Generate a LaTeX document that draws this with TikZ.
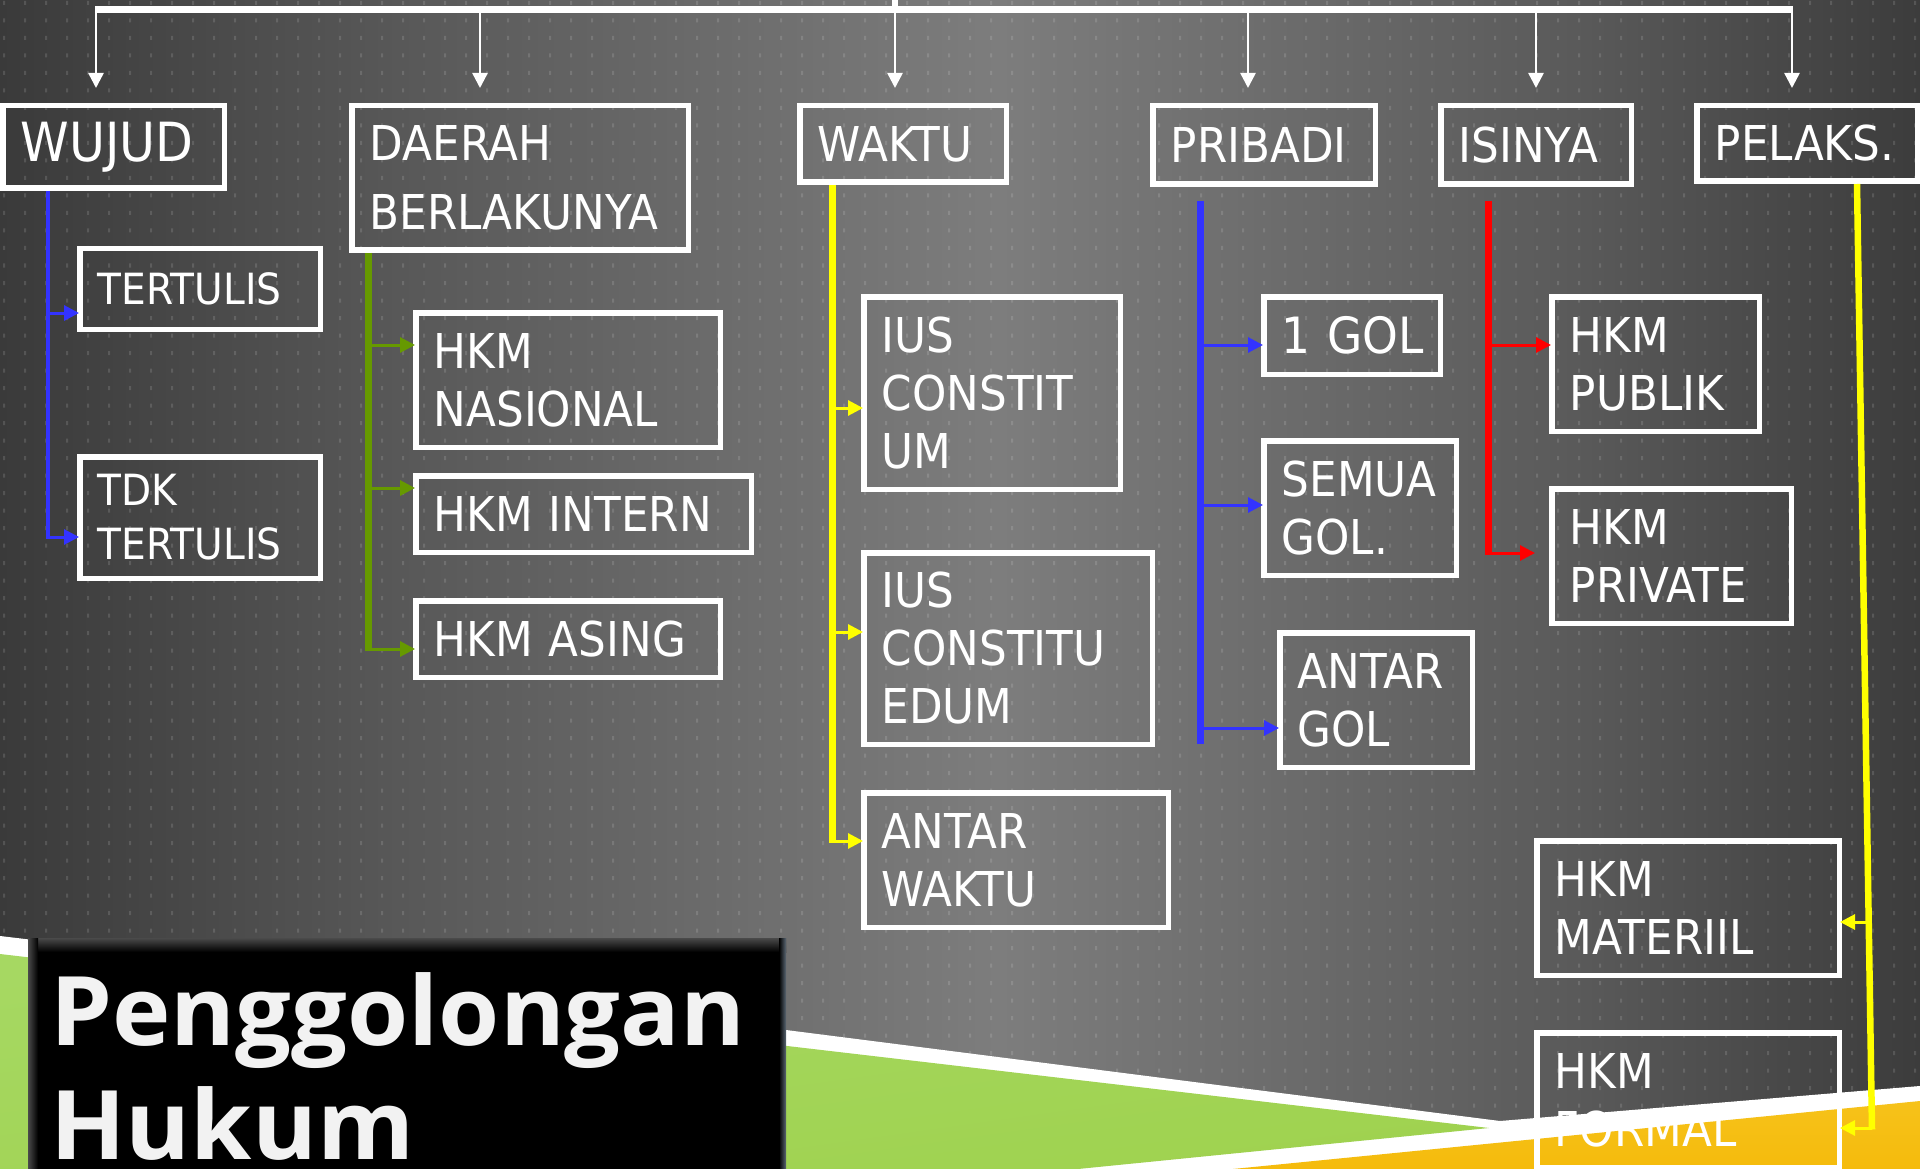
\documentclass[tikz,border=0pt]{standalone}
\usepackage{fontspec}
\setmainfont{DejaVu Sans}[FakeStretch=0.91]
\newfontfamily\titlefont{Open Sans}[FakeStretch=1.03]
\usetikzlibrary{arrows.meta}
\definecolor{bg0}{HTML}{3A3A3A}
\definecolor{bg1}{HTML}{575757}
\definecolor{bg2}{HTML}{7D7D7D}
\definecolor{bg3}{HTML}{5A5A5A}
\definecolor{bg4}{HTML}{3C3C3C}
\definecolor{cblue}{HTML}{3333FF}
\definecolor{cgreen}{HTML}{669900}
\definecolor{cyellow}{HTML}{FFFF00}
\definecolor{cred}{HTML}{FF0000}
\definecolor{gA}{HTML}{A6D862}
\definecolor{gB}{HTML}{D2EDA6}
\definecolor{gC}{HTML}{9FD24F}
\definecolor{yA}{HTML}{F6C21A}
\definecolor{yB}{HTML}{FDDC78}
\definecolor{yC}{HTML}{F5BB0C}
\definecolor{ttl}{HTML}{F2F2F2}
\definecolor{bevel}{HTML}{4A4A4A}
\definecolor{bevelR}{HTML}{5B6874}
\pgfdeclarehorizontalshading{bgshade}{100bp}{color(0bp)=(bg0); color(25bp)=(bg0); color(35bp)=(bg1); color(51bp)=(bg2); color(66bp)=(bg3); color(75bp)=(bg4); color(100bp)=(bg4)}
\tikzset{
  box/.style={draw=white, line width=5.5pt, inner xsep=18pt, inner ysep=0pt,
    align=left, anchor=north west, text=white,
    font=\fontsize{48}{58}\selectfont},
  toparrow/.style={draw=white, line width=2.5pt,
    -{Triangle[length=15pt,width=15pt]}, shorten >=15pt},
  trunk/.style={draw=#1, line width=7pt},
  branch/.style={draw=#1, line width=3pt, -{Triangle[length=15pt,width=15pt]}, shorten >=-2pt},
}
\begin{document}
\begin{tikzpicture}[x=1pt,y=-1pt]
\useasboundingbox (0,0) rectangle (1920,1169);
\clip (0,0) rectangle (1920,1169);
% background
\shade[shading=bgshade] (0,0) rectangle (1920,1169);
\fill[white, opacity=0.13]
  \foreach \i in {0,...,91} {\foreach \j in {0,...,66} {(4+21*\i-1, 1+17.5*\j) rectangle ++(2,4)}};
% bottom swoosh
\fill[white] (0,936) -- (786,1030) -- (1500,1121) -- (1920,1086) -- (1920,1169) -- (0,1169) -- cycle;
\shade[top color=gA, middle color=gB, bottom color=gC, shading angle=8]
  (0,954) -- (1489,1128) -- (1078,1169) -- (0,1169) -- cycle;
\shade[top color=yA, middle color=yB, bottom color=yC]
  (1233,1169) -- (1920,1101) -- (1920,1169) -- cycle;
% title box
\fill[black] (28,938) rectangle (786,1169);
\shade[top color=bevel, bottom color=black] (28,938) rectangle (786,952);
\shade[left color=bevel, right color=black] (28,938) rectangle (38,1169);
\shade[left color=black, right color=bevelR] (779,938) rectangle (786,1169);
\node[anchor=north west, inner sep=0pt, align=left, text=ttl,
  font=\titlefont\bfseries\fontsize{96}{114}\selectfont] (title) at (50,972) {Penggolongan\\Hukum};

% header boxes
\node[box, font=\fontsize{54}{64}\selectfont, minimum width=221.5pt, minimum height=82.5pt, text width=185.5pt] (wujud) at (0,103) {WUJUD};
\node[box, font=\fontsize{48}{69}\selectfont, minimum width=336.5pt, minimum height=144.5pt, text width=300.5pt] (daerah) at (349,103) {DAERAH\\BERLAKUNYA};
\node[box, minimum width=206.5pt, minimum height=76.5pt, text width=170.5pt] (waktu) at (797,103) {WAKTU};
\node[box, minimum width=222.5pt, minimum height=78.5pt, text width=186.5pt] (pribadi) at (1150,103) {PRIBADI};
\node[box, minimum width=190.5pt, minimum height=78.5pt, text width=154.5pt] (isinya) at (1438,103) {ISINYA};
\node[box, minimum width=220.5pt, minimum height=75.5pt, text width=184.5pt] (pelaks) at (1694,103) {PELAKS.};

% children
\node[box, font=\fontsize{43}{54}\selectfont, minimum width=240.5pt, minimum height=80.5pt, text width=204.5pt] (tertulis) at (77,246) {TERTULIS};
\node[box, font=\fontsize{43}{54}\selectfont, minimum width=240.5pt, minimum height=121.5pt, text width=204.5pt] (tdk) at (77,454) {TDK\\TERTULIS};
\node[box, minimum width=304.5pt, minimum height=134.5pt, text width=268.5pt] (nasional) at (413,310) {HKM\\NASIONAL};
\node[box, minimum width=335.5pt, minimum height=76.5pt, text width=299.5pt] (intern) at (413,473) {HKM~INTERN};
\node[box, minimum width=304.5pt, minimum height=76.5pt, text width=268.5pt] (asing) at (413,598) {HKM~ASING};
\node[box, minimum width=256.5pt, minimum height=192.5pt, text width=220.5pt] (ius1) at (861,294) {IUS\\CONSTIT\\UM};
\node[box, minimum width=288.5pt, minimum height=191.5pt, text width=252.5pt] (ius2) at (861,550) {IUS\\CONSTITU\\EDUM};
\node[box, minimum width=304.5pt, minimum height=134.5pt, text width=268.5pt] (antarwaktu) at (861,790) {ANTAR\\WAKTU};
\node[box, font=\fontsize{50}{60}\selectfont, minimum width=176.5pt, minimum height=77.5pt, text width=140.5pt] (gol1) at (1261,294) {1~GOL};
\node[box, minimum width=192.5pt, minimum height=134.5pt, text width=156.5pt] (semua) at (1261,438) {SEMUA\\GOL.};
\node[box, minimum width=192.5pt, minimum height=134.5pt, text width=156.5pt] (antargol) at (1277,630) {ANTAR\\GOL};
\node[box, minimum width=207.5pt, minimum height=134.5pt, text width=171.5pt] (publik) at (1549,294) {HKM\\PUBLIK};
\node[box, minimum width=239.5pt, minimum height=134.5pt, text width=203.5pt] (private) at (1549,486) {HKM\\PRIVATE};
\node[box, minimum width=302.5pt, minimum height=134.5pt, text width=266.5pt] (materiil) at (1534,838) {HKM\\MATERIIL};
\node[box, minimum width=302.5pt, minimum height=134.5pt, text width=266.5pt] (formal) at (1534,1030) {HKM\\FORMAL};

% top connector
\coordinate (top) at (895,0);
\coordinate (barL) at (95,9.5);
\coordinate (barR) at (1793,9.5);
\coordinate (t1) at (96,9.5);
\coordinate (t2) at (480,9.5);
\coordinate (t3) at (895,9.5);
\coordinate (t4) at (1248,9.5);
\coordinate (t5) at (1536,9.5);
\coordinate (t6) at (1792,9.5);
\draw[white, line width=6pt] (top) -- (t3);
\draw[white, line width=6.5pt] (barL) -- (barR);
\draw[toparrow] (t1) -- (t1 |- wujud.north);
\draw[toparrow] (t2) -- (t2 |- daerah.north);
\draw[toparrow] (t3) -- (t3 |- waktu.north);
\draw[toparrow] (t4) -- (t4 |- pribadi.north);
\draw[toparrow] (t5) -- (t5 |- isinya.north);
\draw[toparrow] (t6) -- (t6 |- pelaks.north);

% WUJUD (blue)
\coordinate (wE) at (48,538.5);
\coordinate (w1) at (48,313);
\coordinate (w2) at (48,537);
\draw[trunk=cblue, line width=4.5pt] (wujud.south -| wE) -- (wE);
\draw[branch=cblue] (w1) -- (w1 -| tertulis.west);
\draw[branch=cblue] (w2) -- (w2 -| tdk.west);

% DAERAH (green)
\coordinate (dE) at (368,650.5);
\coordinate (d1) at (368,345);
\coordinate (d2) at (368,488);
\coordinate (d3) at (368,649);
\draw[trunk=cgreen] (daerah.south -| dE) -- (dE);
\draw[branch=cgreen] (d1) -- (d1 -| nasional.west);
\draw[branch=cgreen] (d2) -- (d2 -| intern.west);
\draw[branch=cgreen] (d3) -- (d3 -| asing.west);

% WAKTU (yellow)
\coordinate (kE) at (832,842.5);
\coordinate (k1) at (832,408);
\coordinate (k2) at (832,632);
\coordinate (k3) at (832,841);
\draw[trunk=cyellow] (waktu.south -| kE) -- (kE);
\draw[branch=cyellow] (k1) -- (k1 -| ius1.west);
\draw[branch=cyellow] (k2) -- (k2 -| ius2.west);
\draw[branch=cyellow] (k3) -- (k3 -| antarwaktu.west);

% PRIBADI (blue)
\coordinate (pE) at (1200,744);
\coordinate (p1) at (1200,345);
\coordinate (p2) at (1200,505);
\coordinate (p3) at (1200,728);
\draw[trunk=cblue, shorten <=14pt] (pribadi.south -| pE) -- (pE);
\draw[branch=cblue] (p1) -- (p1 -| gol1.west);
\draw[branch=cblue] (p2) -- (p2 -| semua.west);
\draw[branch=cblue] (p3) -- (p3 -| antargol.west);

% ISINYA (red)
\coordinate (iE) at (1488,554.5);
\coordinate (i1) at (1488,345);
\coordinate (i2) at (1488,553);
\draw[trunk=cred, shorten <=14pt] (isinya.south -| iE) -- (iE);
\draw[branch=cred] (i1) -- (i1 -| publik.west);
\draw[branch=cred, shorten >=14pt] (i2) -- (i2 -| private.west);

% PELAKS (yellow, slanted)
\coordinate (qA) at (1857,0);
\coordinate (qE) at (1872,1129.5);
\coordinate (q1) at (1869,922);
\coordinate (q2) at (1872,1128);
\draw[trunk=cyellow, line width=6.5pt] (pelaks.south -| qA) -- (qE);
\draw[branch=cyellow] (q1) -- (q1 -| materiil.east);
\draw[branch=cyellow] (q2) -- (q2 -| formal.east);
\end{tikzpicture}
\end{document}
